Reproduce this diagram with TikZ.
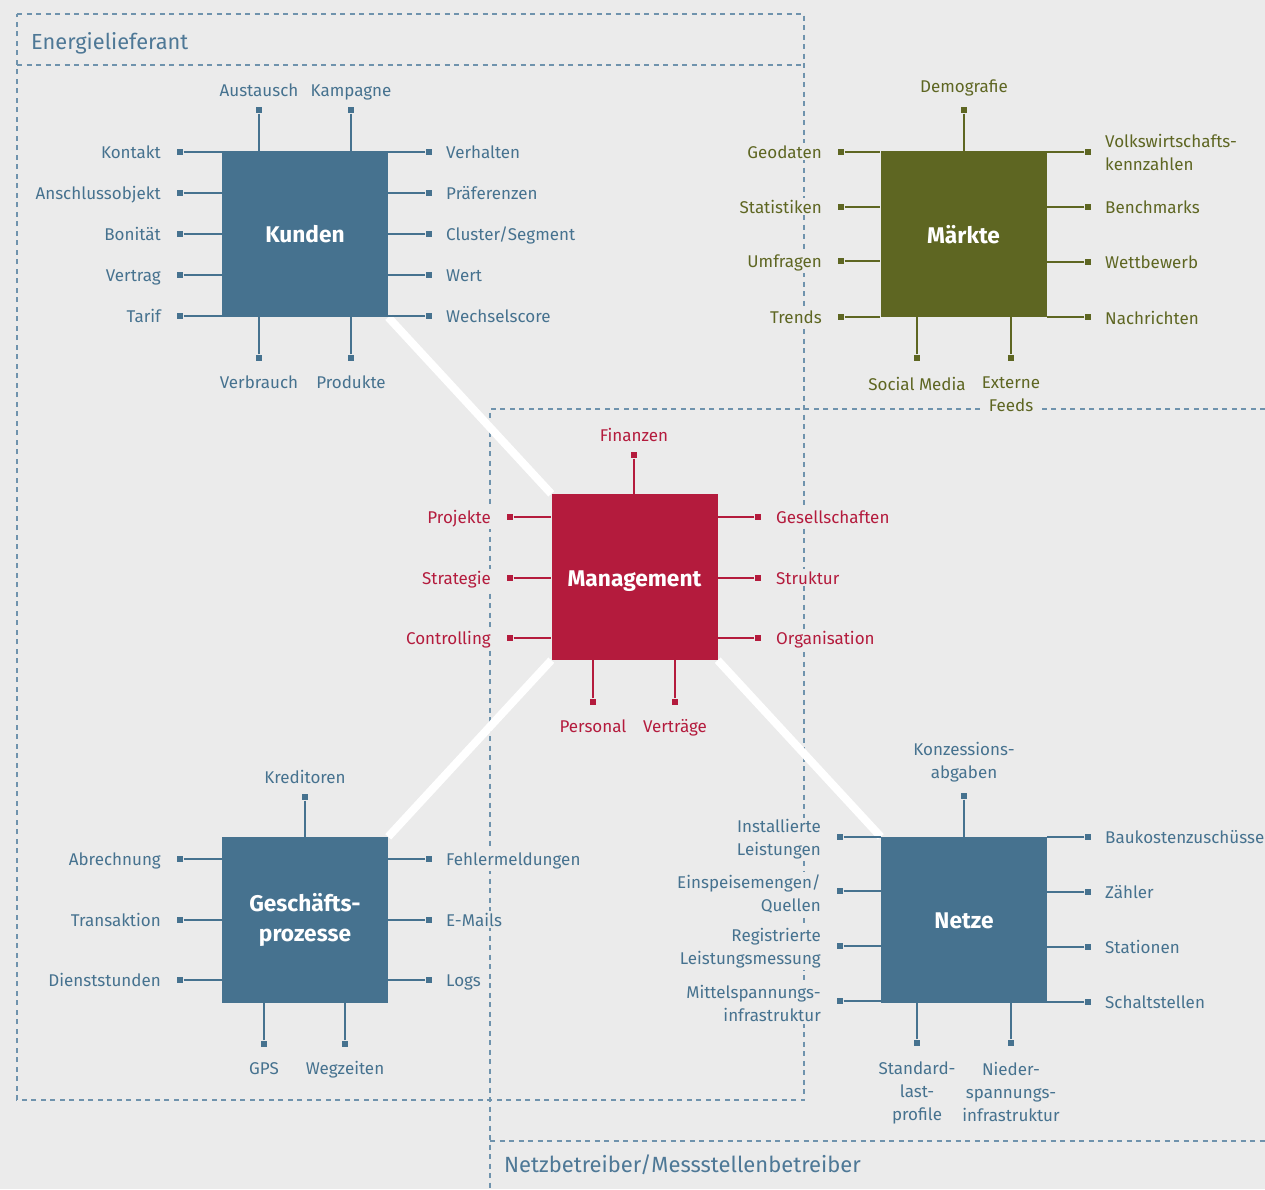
\documentclass[tikz,border=0pt]{standalone}
\usepackage{fontspec}
\setmainfont{Fira Sans}
\definecolor{bg}{HTML}{EBEBEB}
\definecolor{kblue}{HTML}{46728F}
\definecolor{mred}{HTML}{B41B3D}
\definecolor{olive}{HTML}{5E6622}
\definecolor{frame}{HTML}{6F93AD}
\definecolor{headc}{HTML}{4E7896}
\newcommand{\labfont}{\fontsize{17}{23}\selectfont}
\newcommand{\boxfont}{\fontsize{22.7}{30}\selectfont\bfseries}
\newcommand{\headfont}{\fontsize{21.8}{26}\selectfont}
\begin{document}
\begin{tikzpicture}[x=1pt,y=-1pt,
  hub/.style={minimum size=166pt, inner sep=0pt},
  title/.style={text=white, font=\boxfont, inner sep=0pt, align=center},
  endsq/.style={rectangle, fill, minimum size=6.8pt, inner sep=0pt},
  stub/.style={line width=1.7pt},
  lab/.style={inner sep=2pt, fill=bg, font=\labfont},
  frameline/.style={frame, line width=1.3pt, dash pattern=on 5pt off 4.5pt},
  tie/.style={white, line width=8pt},
]
\fill[bg] (0,0) rectangle (1265,1189);
\useasboundingbox (0,0) rectangle (1265,1189);

% ---------- dashed domain frames ----------
\draw[frameline] (17,14) -- (804,14) -- (804,1100) -- (17,1100) -- cycle;
\draw[frameline] (17,65) -- (804,65);
\node[anchor=base west, text=headc, font=\headfont, inner sep=0pt] (hEL) at (31,49) {Energielieferant};

\draw[frameline] (1265,409) -- (490,409) -- (490,1189);
\draw[frameline] (490,1141) -- (1265,1141);
\node[anchor=base west, text=headc, font=\fontsize{22}{26}\selectfont, inner sep=0pt] (hNB) at (504,1172) {Netzbetreiber/Messstellenbetreiber};

% ---------- hub boxes ----------
\coordinate (cK) at (305,234);
\coordinate (cM) at (963.5,234);
\coordinate (cG) at (634.5,577);
\coordinate (cP) at (305,920);
\coordinate (cN) at (964,920);

% white ties (drawn below the boxes)
\path (cK) node[hub] (kunden) {} (cG) node[hub] (mgmt) {}
      (cP) node[hub] (proz) {} (cN) node[hub] (netze) {};
\draw[tie] (kunden.south east) -- (mgmt.north west);
\draw[tie] (mgmt.south west) -- (proz.north east);
\draw[tie] (mgmt.south east) -- (netze.north west);

\node[hub,fill=kblue] (kunden) at (cK) {};
\node[hub,fill=olive] (maerkte) at (cM) {};
\node[hub,fill=mred] (mgmt) at (cG) {};
\node[hub,fill=kblue] (proz) at (cP) {};
\node[hub,fill=kblue] (netze) at (cN) {};

\node[title,anchor=base] (tK) at ([yshift=-8.8pt]kunden.center) {Kunden};
\node[title,anchor=base] (tM) at ([yshift=-9.3pt]maerkte.center) {Märkte};
\node[title,anchor=base] (tG) at ([yshift=-9.3pt]mgmt.center) {Management};
\node[title] (tP) at ([yshift=0.5pt]proz.center) {Geschäfts-\\prozesse};
\node[title,anchor=base] (tN) at ([yshift=-8.8pt]netze.center) {Netze};

% ---------- Kunden ----------
\foreach \yy/\txt [count=\i] in {152/Kontakt,193/Anschlussobjekt,234/Bonität,275/Vertrag,316/Tarif}{
  \node[endsq,kblue] (kunden-w\i) at (180,\yy) {};
  \draw[stub,kblue] (kunden-w\i) -- (kunden-w\i -| kunden.west);
  \node[lab,text=kblue,anchor=base east] at ([xshift=-17pt,yshift=-6pt]kunden-w\i.center) {\txt};
}
\foreach \yy/\txt [count=\i] in {152/Verhalten,193/Präferenzen,234/{Cluster/Segment},275/Wert,316/Wechselscore}{
  \node[endsq,kblue] (kunden-e\i) at (429,\yy) {};
  \draw[stub,kblue] (kunden-e\i) -- (kunden-e\i -| kunden.east);
  \node[lab,text=kblue,anchor=base west] at ([xshift=15pt,yshift=-6pt]kunden-e\i.center) {\txt};
}
\foreach \xx/\txt [count=\i] in {259/Austausch,351/Kampagne}{
  \node[endsq,kblue] (kunden-n\i) at (\xx,110) {};
  \draw[stub,kblue] (kunden-n\i) -- (kunden-n\i |- kunden.north);
  \node[lab,text=kblue,anchor=base] at ([yshift=13.5pt]kunden-n\i.center) {\txt};
}
\foreach \xx/\txt [count=\i] in {259/Verbrauch,351/Produkte}{
  \node[endsq,kblue] (kunden-s\i) at (\xx,358) {};
  \draw[stub,kblue] (kunden-s\i) -- (kunden-s\i |- kunden.south);
  \node[lab,text=kblue,anchor=base] at ([yshift=-30pt]kunden-s\i.center) {\txt};
}

% ---------- Märkte ----------
\foreach \yy/\txt [count=\i] in {152/Geodaten,207/Statistiken,261/Umfragen,317/Trends}{
  \node[endsq,olive] (maerkte-w\i) at (841,\yy) {};
  \draw[stub,olive] (maerkte-w\i) -- (maerkte-w\i -| maerkte.west);
  \node[lab,text=olive,anchor=base east] at ([xshift=-17pt,yshift=-6pt]maerkte-w\i.center) {\txt};
}
\foreach \yy/\txt [count=\i] in {152/{Volkswirtschafts-\\kennzahlen},207/Benchmarks,262/Wettbewerb,317/Nachrichten}{
  \node[endsq,olive] (maerkte-e\i) at (1088,\yy) {};
  \draw[stub,olive] (maerkte-e\i) -- (maerkte-e\i -| maerkte.east);
  \node[lab,text=olive,anchor=west,align=left] at ([xshift=15pt,yshift=-0.5pt]maerkte-e\i.center) {\txt};
}
\node[endsq,olive] (maerkte-n1) at (964,110) {};
\draw[stub,olive] (maerkte-n1) -- (maerkte-n1 |- maerkte.north);
\node[lab,text=olive,anchor=base] at ([yshift=18pt]maerkte-n1.center) {Demografie};
\foreach \xx/\txt [count=\i] in {917/Social Media,1011/{Externe\\Feeds}}{
  \node[endsq,olive] (maerkte-s\i) at (\xx,358) {};
  \draw[stub,olive] (maerkte-s\i) -- (maerkte-s\i |- maerkte.south);
  \node[lab,text=olive,anchor=north,align=center] at ([yshift=-17pt]maerkte-s\i.center) {\txt};
}

% ---------- Management ----------
\foreach \yy/\txt [count=\i] in {517/Projekte,578/Strategie,638/Controlling}{
  \node[endsq,mred] (mgmt-w\i) at (510,\yy) {};
  \draw[stub,mred] (mgmt-w\i) -- (mgmt-w\i -| mgmt.west);
  \node[lab,text=mred,anchor=base east] at ([xshift=-17pt,yshift=-6pt]mgmt-w\i.center) {\txt};
}
\foreach \yy/\txt [count=\i] in {517/Gesellschaften,578/Struktur,638/Organisation}{
  \node[endsq,mred] (mgmt-e\i) at (758,\yy) {};
  \draw[stub,mred] (mgmt-e\i) -- (mgmt-e\i -| mgmt.east);
  \node[lab,text=mred,anchor=base west] at ([xshift=16pt,yshift=-6pt]mgmt-e\i.center) {\txt};
}
\node[endsq,mred] (mgmt-n1) at (634,455) {};
\draw[stub,mred] (mgmt-n1) -- (mgmt-n1 |- mgmt.north);
\node[lab,text=mred,anchor=base] at ([yshift=14pt]mgmt-n1.center) {Finanzen};
\foreach \xx/\txt [count=\i] in {593/Personal,675/Verträge}{
  \node[endsq,mred] (mgmt-s\i) at (\xx,702) {};
  \draw[stub,mred] (mgmt-s\i) -- (mgmt-s\i |- mgmt.south);
  \node[lab,text=mred,anchor=base] at ([yshift=-30pt]mgmt-s\i.center) {\txt};
}

% ---------- Geschäftsprozesse ----------
\foreach \yy/\txt [count=\i] in {859/Abrechnung,920/Transaktion,980/Dienststunden}{
  \node[endsq,kblue] (proz-w\i) at (180,\yy) {};
  \draw[stub,kblue] (proz-w\i) -- (proz-w\i -| proz.west);
  \node[lab,text=kblue,anchor=base east] at ([xshift=-17pt,yshift=-6pt]proz-w\i.center) {\txt};
}
\foreach \yy/\txt [count=\i] in {859/Fehlermeldungen,920/E-Mails,980/Logs}{
  \node[endsq,kblue] (proz-e\i) at (429,\yy) {};
  \draw[stub,kblue] (proz-e\i) -- (proz-e\i -| proz.east);
  \node[lab,text=kblue,anchor=base west] at ([xshift=15pt,yshift=-6pt]proz-e\i.center) {\txt};
}
\node[endsq,kblue] (proz-n1) at (305,797) {};
\draw[stub,kblue] (proz-n1) -- (proz-n1 |- proz.north);
\node[lab,text=kblue,anchor=base] at ([yshift=14pt]proz-n1.center) {Kreditoren};
\foreach \xx/\txt [count=\i] in {264/GPS,345/Wegzeiten}{
  \node[endsq,kblue] (proz-s\i) at (\xx,1044) {};
  \draw[stub,kblue] (proz-s\i) -- (proz-s\i |- proz.south);
  \node[lab,text=kblue,anchor=base] at ([yshift=-30pt]proz-s\i.center) {\txt};
}

% ---------- Netze ----------
\foreach \yy/\txt [count=\i] in {837/{Installierte\\Leistungen},891/{Einspeisemengen/\\Quellen},946/{Registrierte\\Leistungsmessung},1001/{Mittelspannungs-\\infrastruktur}}{
  \node[endsq,kblue] (netze-w\i) at (840,\yy) {};
  \draw[stub,kblue] (netze-w\i) -- (netze-w\i -| netze.west);
  \node[lab,text=kblue,anchor=east,align=right] at ([xshift=-17pt,yshift=-2.5pt]netze-w\i.center) {\txt};
}
\foreach \yy/\txt [count=\i] in {837/Baukostenzuschüsse,892/Zähler,947/Stationen,1002/Schaltstellen}{
  \node[endsq,kblue] (netze-e\i) at (1088,\yy) {};
  \draw[stub,kblue] (netze-e\i) -- (netze-e\i -| netze.east);
  \node[lab,text=kblue,anchor=base west] at ([xshift=15pt,yshift=-6pt]netze-e\i.center) {\txt};
}
\node[endsq,kblue] (netze-n1) at (964,796) {};
\draw[stub,kblue] (netze-n1) -- (netze-n1 |- netze.north);
\node[lab,text=kblue,anchor=south,align=center] at ([yshift=12pt]netze-n1.center) {Konzessions-\\abgaben};
\foreach \xx/\txt [count=\i] in {917/{Standard-\\last-\\profile},1011/{Nieder-\\spannungs-\\infrastruktur}}{
  \node[endsq,kblue] (netze-s\i) at (\xx,1043) {};
  \draw[stub,kblue] (netze-s\i) -- (netze-s\i |- netze.south);
  \node[lab,text=kblue,anchor=north,align=center] at ([yshift=-17pt]netze-s\i.center) {\txt};
}
\end{tikzpicture}
\end{document}
